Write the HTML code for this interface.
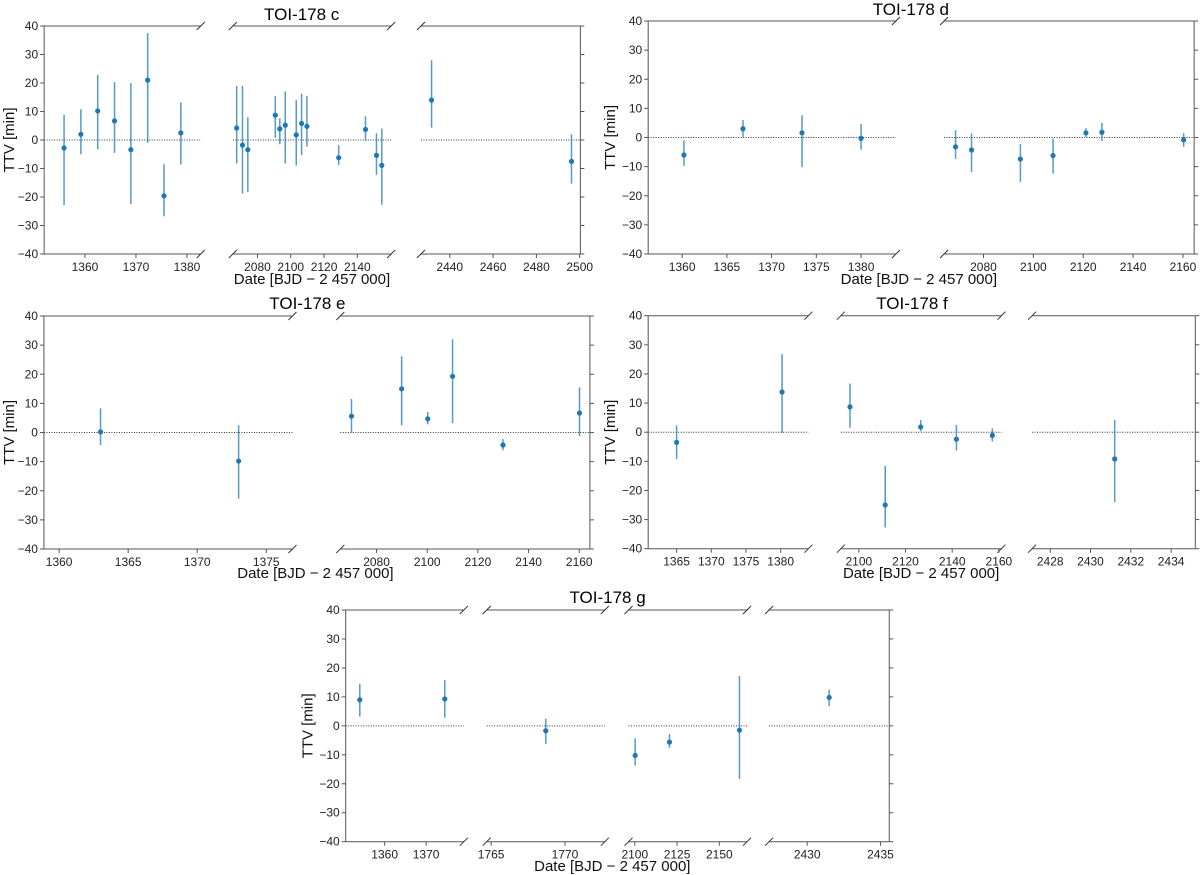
<!DOCTYPE html>
<html><head><meta charset="utf-8"><style>
body{margin:0;background:#fff}
svg{display:block;font-family:"Liberation Sans",sans-serif}
</style></head><body>
<svg id="fig" width="1200" height="875" viewBox="0 0 1200 875"></svg>
<script>
// ---- data ----
const yTicks = [-40,-30,-20,-10,0,10,20,30,40];
const cX = [1355.9,1359.2,1362.5,1365.8,1369.0,1372.3,1375.5,1378.8,2067.5,2071.0,2074.2,2090.7,2093.4,2096.7,2103.3,2106.5,2109.7,2128.8,2144.9,2151.5,2154.7,2431.6,2496.2];
const cY = [-2.8,2,10.2,6.7,-3.4,21,-19.6,2.5,4.2,-1.8,-3.4,8.7,3.9,5.2,1.8,5.8,4.8,-6.2,3.7,-5.4,-8.9,14,-7.5];
const cHi = [8.8,10.8,22.8,20.3,20,37.5,-8.5,13.2,19,19,8,15.4,7.6,17,14,16.3,15.5,-1.8,8.3,2.4,4,28,2];
const cLo = [-22.8,-5,-3.3,-4.5,-22.5,-1,-26.8,-8.6,-8.2,-18.8,-18.2,0.8,-1.5,-8.2,-9,-5.3,-2.3,-8.8,-0.3,-12.2,-22.7,4.3,-15.3];
const cTicks = [[1360,1370,1380],[2080,2100,2120,2140],[2440,2460,2480,2500]];
const dX = [1360.2,1366.8,1373.4,1380.0,2068.8,2075.2,2094.8,2107.9,2121.1,2127.5,2160.3];
const dY = [-6,3,1.6,-0.3,-3.2,-4.3,-7.4,-6.2,1.6,1.8,-0.8];
const dHi = [-1,6,7.6,4.6,2.5,1.4,-2.3,-0.4,3.2,5,1.5];
const dLo = [-9.7,0.2,-10.2,-4.2,-7.3,-11.8,-15.3,-12.4,0.2,-1.2,-3.2];
const dTicks = [[1360,1365,1370,1375,1380],[2080,2100,2120,2140,2160]];
const eX = [1363.0,1373.0,2070.1,2089.9,2100.2,2110.0,2129.9,2160.1];
const eY = [0.2,-9.8,5.6,15,4.7,19.3,-4.3,6.7];
const eHi = [8.3,2.5,11.5,26.2,7,32,-2.3,15.5];
const eLo = [-4.4,-22.7,0,2.5,2.8,3.2,-6.1,-1.2];
const eTicks = [[1360,1365,1370,1375],[2080,2100,2120,2140,2160]];
const fX = [1365.0,1380.2,2096.2,2111.3,2126.5,2141.8,2157.2,2431.2];
const fY = [-3.5,13.8,8.7,-25,1.8,-2.4,-1.1,-9.2];
const fHi = [2.3,26.8,16.7,-11.6,4.2,2.5,1.3,4.2];
const fLo = [-9.2,-0.2,1.5,-32.7,0.3,-6.3,-3.2,-24];
const fTicks = [[1365,1370,1375,1380],[2100,2120,2140,2160],[2428,2430,2432,2434]];
const gX = [1354.0,1374.5,1768.7,2100.2,2120.5,2161.9,2431.5];
const gY = [9,9.3,-1.7,-10.2,-5.6,-1.5,9.8];
const gHi = [14.5,15.8,2.5,-4.3,-2.8,17.2,12.5];
const gLo = [3.2,2.8,-6.2,-13.7,-7.6,-18.3,6.8];
const gTicks = [[1360,1370],[1765,1770],[2100,2125,2150],[2430,2435]];

const NS = "http://www.w3.org/2000/svg";
const fig = document.getElementById('fig');
function mk(tag, attrs, parent){
  const e = document.createElementNS(NS, tag);
  for (const k in attrs) e.setAttribute(k, attrs[k]);
  (parent||fig).appendChild(e);
  return e;
}
function fmt(v){ return v<0 ? '\u2212'+Math.abs(v) : String(v); }

function panel(p){
  const K = p.k, ox = p.ox;
  const tx = x => ox + (x-ox)*K;
  const g = mk('g', {});
  
  
  const yS = v => p.bottom + (v+40)/80*(p.top-p.bottom);
  const n = p.segs.length;
  p.segs.forEach((s, si) => {
    const x0 = tx(s[0]), x1 = tx(s[1]), d0 = s[2], d1 = s[3];
    const ticks = p.ticks[si];
    const xS = v => x0 + (v-d0)/(d1-d0)*(x1-x0);
    const sg = mk('g', {}, g);
    
    
    const z = mk('line', {x1:x0,x2:x1,y1:yS(0),y2:yS(0),stroke:'#333','stroke-width':1,'stroke-dasharray':'1,1.5'}, sg);
    
    
    mk('line',{x1:x0,x2:x1,y1:p.top,y2:p.top,stroke:'#555','stroke-width':1},sg);
    mk('line',{x1:x0,x2:x1,y1:p.bottom,y2:p.bottom,stroke:'#555','stroke-width':1},sg);
    if (si===0){
      mk('line',{x1:x0,x2:x0,y1:p.top,y2:p.bottom,stroke:'#555','stroke-width':1},sg);
      yTicks.forEach(v=>{
        mk('line',{x1:x0-4,x2:x0,y1:yS(v),y2:yS(v),stroke:'#555'},sg);
        const t = mk('text',{x:x0-6,y:yS(v)+4,'text-anchor':'end','font-size':12,fill:'#222'},sg);
        t.textContent = fmt(v);
        
        
      });
    } else {
      mk('line',{x1:x0-4,y1:p.top+4,x2:x0+4,y2:p.top-4,stroke:'#333'},sg);
      mk('line',{x1:x0-4,y1:p.bottom+4,x2:x0+4,y2:p.bottom-4,stroke:'#333'},sg);
    }
    if (si===n-1){
      mk('line',{x1:x1,x2:x1,y1:p.top,y2:p.bottom,stroke:'#555','stroke-width':1},sg);
      yTicks.forEach(v=>mk('line',{x1:x1,x2:x1+4,y1:yS(v),y2:yS(v),stroke:'#555'},sg));
    } else {
      mk('line',{x1:x1-4,y1:p.top+4,x2:x1+4,y2:p.top-4,stroke:'#333'},sg);
      mk('line',{x1:x1-4,y1:p.bottom+4,x2:x1+4,y2:p.bottom-4,stroke:'#333'},sg);
    }
    ticks.forEach(v=>{
      const x = xS(v);
      mk('line',{x1:x,x2:x,y1:p.bottom,y2:p.bottom+4,stroke:'#555'},sg);
      const t = mk('text',{x:x,y:p.bottom+17,'text-anchor':'middle','font-size':12,fill:'#222'},sg);
      t.textContent = v;
      
      
    });
    p.X.forEach((xv,i)=>{
      if (xv<d0 || xv>d1) return;
      const x = xS(xv);
      const eb = mk('line',{x1:x,x2:x,y1:yS(p.Lo[i]),y2:yS(p.Hi[i]),stroke:'#1f77b4','stroke-opacity':0.75,'stroke-width':1.5},sg);
      
      
      const c = mk('circle',{cx:x,cy:yS(p.Y[i]),r:2.6,fill:'#1f77b4'},sg);
      
      
    });
  });
  const ti = mk('text',{x:tx(p.titleX),y:p.titleY,'text-anchor':'middle','font-size':17,fill:'#000'},g);
  ti.textContent = p.title;
  
  
  const xl = mk('text',{x:tx(p.xlX),y:p.xlY,'text-anchor':'middle','font-size':15,fill:'#111'},g);
  xl.textContent = 'Date [BJD \u2212 2 457 000]';
  
  
  const yc = (p.top+p.bottom)/2;
  const yl = mk('text',{x:0,y:0,'text-anchor':'middle','font-size':15,fill:'#111',transform:`translate(${tx(p.ylX)},${yc}) rotate(-90)`},g);
  yl.textContent = 'TTV [min]';
  
  
}

panel({name:'panel-toi178c',title:'TOI-178 c',ox:0,k:1.147,top:26,bottom:254,titleX:263,titleY:20,xlX:272,xlY:284,ylX:12,
  segs:[[38.5,175,1352,1382.7],[203,341,2065.2,2160.3],[367,506,2426.7,2500.3]],ticks:cTicks,X:cX,Y:cY,Hi:cHi,Lo:cLo});
panel({name:'panel-toi178d',title:'TOI-178 d',ox:600,k:1.147,top:21,bottom:254,titleX:871,titleY:15,xlX:878,xlY:284,ylX:613,
  segs:[[642,858,1356.2,1383.9],[900,1118,2064.2,2164.5]],ticks:dTicks,X:dX,Y:dY,Hi:dHi,Lo:dLo});
panel({name:'panel-toi178e',title:'TOI-178 e',ox:0,k:1.147,top:316,bottom:549,titleX:268,titleY:309,xlX:275,xlY:578,ylX:12,
  segs:[[38.3,255,1358.9,1376.9],[296.7,514.3,2065.7,2164.2]],ticks:eTicks,X:eX,Y:eY,Hi:eHi,Lo:eLo});
panel({name:'panel-toi178f',title:'TOI-178 f',ox:600,k:1.147,top:315.7,bottom:548.7,titleX:872,titleY:309,xlX:880,xlY:578,ylX:613,
  segs:[[642,781.7,1360.9,1384],[810,950,2092.3,2161.1],[976.7,1119,2427.1,2435.2]],ticks:fTicks,X:fX,Y:fY,Hi:fHi,Lo:fLo});
panel({name:'panel-toi178g',title:'TOI-178 g',ox:290,k:1.185,top:610,bottom:841.7,titleX:558,titleY:603,xlX:562,xlY:871,ylX:309,
  segs:[[337,436.7,1350.6,1379.1],[456,555.7,1764.7,1772.7],[575.7,675.7,2096.3,2166.4],[694.3,795.7,2427.4,2435.6]],ticks:gTicks,X:gX,Y:gY,Hi:gHi,Lo:gLo});
</script>
</body></html>
